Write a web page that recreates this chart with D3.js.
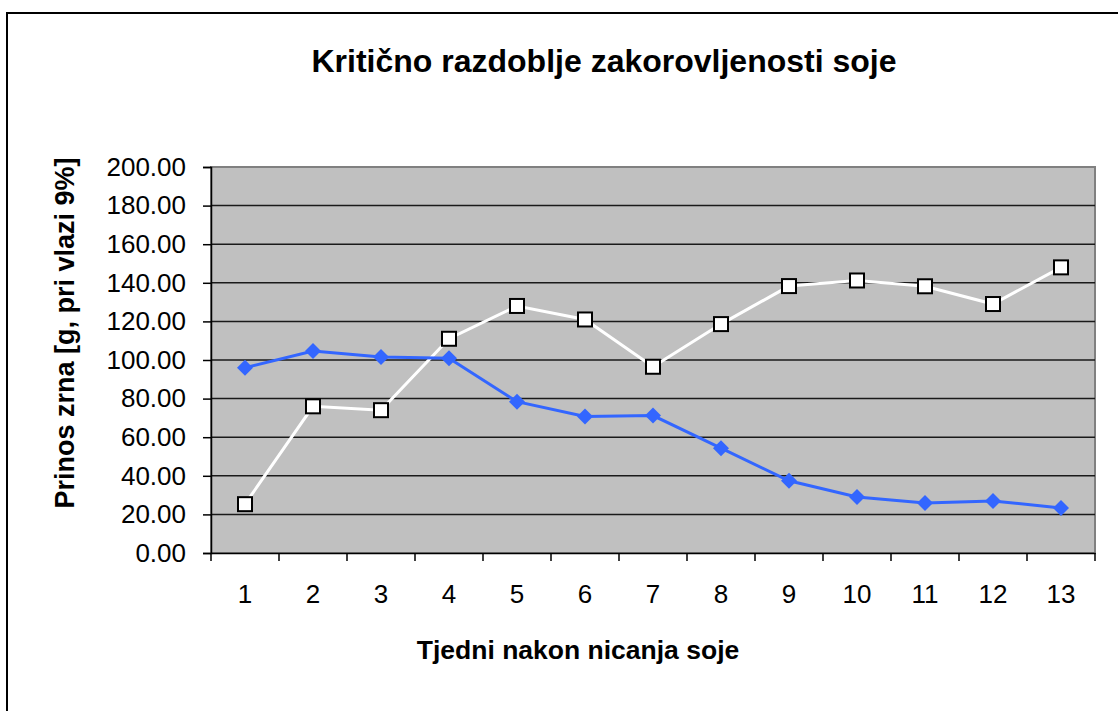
<!DOCTYPE html>
<html>
<head>
<meta charset="utf-8">
<script src="https://cdn.jsdelivr.net/npm/d3@7"></script>
<style>
  body { margin: 0; background: #fff; }
  text { font-family: "Liberation Sans", Arial, sans-serif; }
</style>
</head>
<body>
<div id="chart"></div>
<script>
// weeks after soybean emergence
var weeks = ["1", "2", "3", "4", "5", "6", "7", "8", "9", "10", "11", "12", "13"];
// blue series (diamonds)
var blueVals = [96.0, 104.7, 101.5, 100.9, 78.4, 70.7, 71.2, 54.3, 37.4, 29.0, 25.9, 27.0, 23.3];
// white series (squares)
var whiteVals = [25.3, 76.0, 74.0, 111.0, 128.0, 121.0, 96.5, 118.6, 138.3, 141.2, 138.2, 129.0, 148.0];
var yTicks = [0, 20, 40, 60, 80, 100, 120, 140, 160, 180, 200];

var width = 1118, height = 711;
var plot = { left: 211, right: 1095, top: 167, bottom: 553 };

var svg = d3.select("#chart")
    .append("svg")
    .attr("width", width)
    .attr("height", height);

// outer chart frame (runs off the right and bottom edges)
svg.append("rect")
    .attr("x", 7).attr("y", 13)
    .attr("width", 1140).attr("height", 740)
    .attr("fill", "#fff")
    .attr("stroke", "#000")
    .attr("stroke-width", 2);

var x = d3.scaleBand()
    .domain(weeks)
    .range([plot.left, plot.right]);

var y = d3.scaleLinear()
    .domain([0, 200])
    .range([plot.bottom, plot.top]);

// plot background
svg.append("rect")
    .attr("x", plot.left).attr("y", plot.top)
    .attr("width", plot.right - plot.left)
    .attr("height", plot.bottom - plot.top)
    .attr("fill", "#c0c0c0")
    .attr("stroke", "#808080")
    .attr("stroke-width", 2);

// gridlines
svg.append("g")
    .selectAll("line")
    .data(yTicks.filter(function (d) { return d > 0 && d < 200; }))
    .enter()
    .append("line")
    .attr("x1", plot.left).attr("x2", plot.right)
    .attr("y1", function (d) { return y(d); })
    .attr("y2", function (d) { return y(d); })
    .attr("stroke", "#1a1a1a")
    .attr("stroke-width", 1.5);

// y axis
var yAxis = svg.append("g")
    .attr("transform", "translate(" + plot.left + ",0)")
    .call(d3.axisLeft(y).tickValues(yTicks).tickSize(8).tickPadding(17)
        .tickFormat(d3.format(".2f")));
yAxis.selectAll("text")
    .attr("font-size", 26)
    .attr("fill", "#000")
    .style("font-family", "'Liberation Sans', Arial, sans-serif");
yAxis.selectAll("line, path").attr("stroke", "#000").attr("stroke-width", 1.5);

// x axis: ticks on category boundaries
var xAxis = svg.append("g")
    .attr("transform", "translate(0," + plot.bottom + ")")
    .call(d3.axisBottom(x).tickSize(0).tickPadding(32));
xAxis.select("path").attr("stroke", "#000").attr("stroke-width", 1.5);
xAxis.selectAll("text")
    .attr("font-size", 26)
    .attr("fill", "#000")
    .style("font-family", "'Liberation Sans', Arial, sans-serif");

var bounds = weeks.map(function (d) { return x(d); }).concat([plot.right]);
svg.append("g")
    .selectAll("line")
    .data(bounds)
    .enter()
    .append("line")
    .attr("x1", function (d) { return d; })
    .attr("x2", function (d) { return d; })
    .attr("y1", plot.bottom)
    .attr("y2", plot.bottom + 8)
    .attr("stroke", "#000")
    .attr("stroke-width", 1.5);

var cx = function (d, i) { return x(weeks[i]) + x.bandwidth() / 2; };

var line = d3.line()
    .x(function (d, i) { return cx(d, i); })
    .y(function (d) { return y(d); });

// white series
svg.append("path")
    .datum(whiteVals)
    .attr("d", line)
    .attr("fill", "none")
    .attr("stroke", "#fff")
    .attr("stroke-width", 3);

// blue series
svg.append("path")
    .datum(blueVals)
    .attr("d", line)
    .attr("fill", "none")
    .attr("stroke", "#3366ff")
    .attr("stroke-width", 3);

svg.append("g")
    .selectAll("rect")
    .data(whiteVals)
    .enter()
    .append("rect")
    .attr("x", function (d, i) { return cx(d, i) - 7; })
    .attr("y", function (d) { return y(d) - 7; })
    .attr("width", 14).attr("height", 14)
    .attr("fill", "#fff")
    .attr("stroke", "#000")
    .attr("stroke-width", 2);

svg.append("g")
    .selectAll("path")
    .data(blueVals)
    .enter()
    .append("path")
    .attr("d", "M0,-8L8,0L0,8L-8,0Z")
    .attr("transform", function (d, i) {
        return "translate(" + cx(d, i) + "," + y(d) + ")";
    })
    .attr("fill", "#3366ff");

// titles
svg.append("text")
    .attr("x", 604).attr("y", 72)
    .attr("text-anchor", "middle")
    .attr("font-size", 32)
    .attr("font-weight", "bold")
    .text("Kritično razdoblje zakorovljenosti soje");

svg.append("text")
    .attr("x", 578).attr("y", 659)
    .attr("text-anchor", "middle")
    .attr("font-size", 26.5)
    .attr("font-weight", "bold")
    .text("Tjedni nakon nicanja soje");

svg.append("text")
    .attr("transform", "translate(74,333) rotate(-90)")
    .attr("text-anchor", "middle")
    .attr("font-size", 27)
    .attr("font-weight", "bold")
    .text("Prinos zrna [g, pri vlazi 9%]");
</script>
</body>
</html>
